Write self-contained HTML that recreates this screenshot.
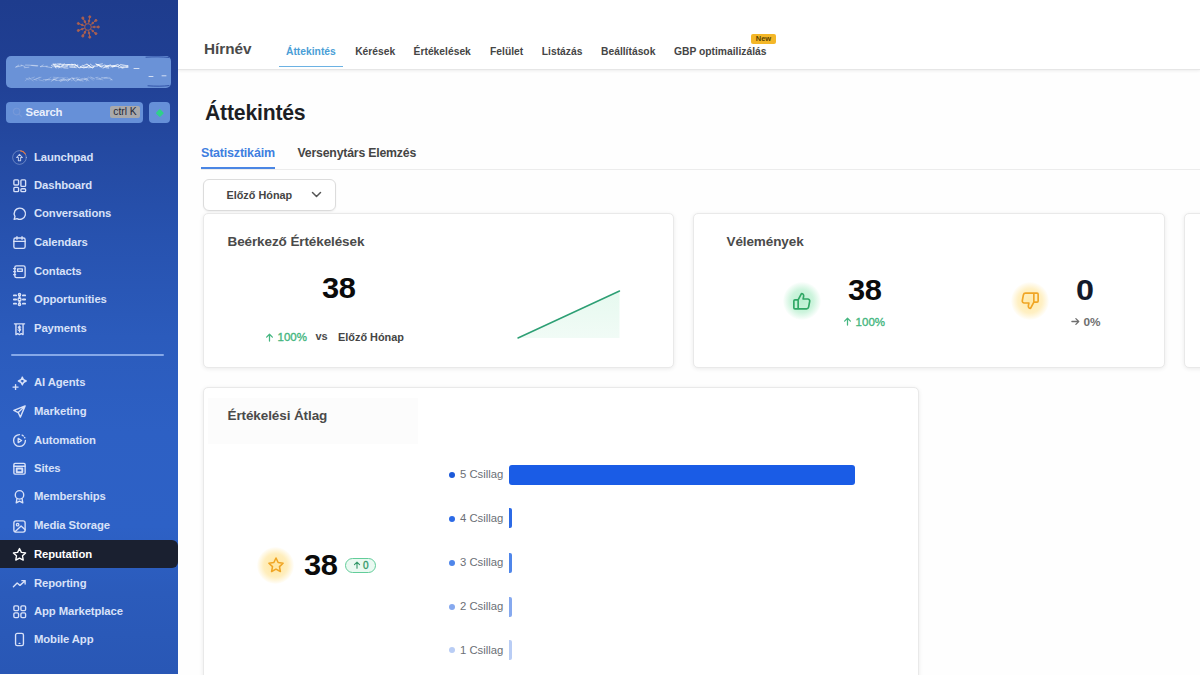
<!DOCTYPE html>
<html lang="hu">
<head>
<meta charset="utf-8">
<title>Hírnév – Áttekintés</title>
<style>
*{box-sizing:border-box;margin:0;padding:0}
html,body{width:1200px;height:675px;overflow:hidden;background:#fefefe;font-family:"Liberation Sans",sans-serif;color:#222}
.abs{position:absolute}
#side{position:absolute;left:0;top:0;width:178px;height:674px;background:linear-gradient(180deg,#1e3c8d 0%,#203f93 10%,#2449a1 22%,#2752af 35%,#2b5bbc 50%,#2d60c4 64%,#2d61c6 78%,#2b5bbb 88%,#2957b5 100%)}
#main{position:absolute;left:178px;top:0;width:1022px;height:675px;background:#fefefe;overflow:hidden}
.nav{position:absolute;left:0;width:178px;height:28px;color:#d8e1f8;font-weight:bold;font-size:11.3px;letter-spacing:-0.1px}
.nav span{position:absolute;left:34px;top:7.8px;white-space:nowrap}
.nav svg{position:absolute;left:12px;top:6.9px;width:15px;height:15px;fill:none;stroke:#d8e1f8;stroke-width:1.45;stroke-linecap:round;stroke-linejoin:round}
.nav.act{background:#1a2030;border-radius:0 6px 6px 0;color:#fff}
.nav.act svg{stroke:#fff}
#hdr{position:absolute;left:0;top:0;width:1022px;height:70px;background:#fff;border-bottom:1px solid #e6e6e6;box-shadow:0 1px 3px rgba(0,0,0,.07)}
.tab{position:absolute;top:45.5px;font-size:10.3px;font-weight:bold;color:#454545;white-space:nowrap}
.card{position:absolute;background:#fff;border:1px solid #e9e9e9;border-radius:5px;box-shadow:0 1px 4px rgba(0,0,0,.08)}
.ar{display:inline-block;width:9px;height:9px;fill:none;stroke:currentColor;stroke-width:1.400;stroke-linecap:round;stroke-linejoin:round;vertical-align:-0.5px;margin-right:4px}
.ct{position:absolute;font-size:13.5px;letter-spacing:-0.1px;font-weight:bold;color:#4a4a4a;white-space:nowrap}
.big{position:absolute;font-size:29.4px;font-weight:bold;color:#0b0b0b;white-space:nowrap;letter-spacing:-0.4px;transform:scaleX(1.05);transform-origin:0 0}
.grn{color:#45b680}
.sm{position:absolute;font-size:11.5px;font-weight:bold;white-space:nowrap}
.md{font-weight:normal;-webkit-text-stroke:0.35px currentColor}
.bl{position:absolute;font-size:11.3px;color:#6b6f76;white-space:nowrap}
.dot{position:absolute;width:6px;height:6px;border-radius:50%}
.bar{position:absolute;height:20px;border-radius:2px}
</style>
</head>
<body>
<div id="side">
  <!-- logo -->
  <svg class="abs" style="left:75.300px;top:13.500px" width="26" height="26" viewBox="-13 -13 26 26">
    <g stroke="#d46a3e" stroke-width="0.900" fill="none" opacity=".78" transform="rotate(90)">
      <circle r="3.300"/>
      <g id="ry"><line x1="0" y1="-3.500" x2="0" y2="-10"/><circle cx="0" cy="-10.300" r="1.050" fill="#d46a3e"/><circle cx="0" cy="-6.200" r=".8" fill="#d46a3e"/></g>
      <use href="#ry" transform="rotate(40)"/><use href="#ry" transform="rotate(80)"/><use href="#ry" transform="rotate(120)"/><use href="#ry" transform="rotate(160)"/><use href="#ry" transform="rotate(200)"/><use href="#ry" transform="rotate(240)"/><use href="#ry" transform="rotate(280)"/><use href="#ry" transform="rotate(320)"/>
    </g>
  </svg>
  <!-- account box -->
  <div class="abs" style="left:6px;top:56px;width:164.500px;height:31.500px;background:#6a92d7;border-radius:5px;overflow:hidden"><svg class="abs" style="left:0;top:0" width="164" height="31" viewBox="0 0 164 31" fill="none" stroke-linecap="round"><path d="M9.9 11.0L12.7 9.1M15.1 9.1L18.9 10.5M19.5 9.1L23.7 9.2M25.7 9.3L31.8 9.6M34.5 10.7L41.3 10.2M45.2 11.6L47.4 9.8M48.4 9.9L51.0 11.5M52.1 10.9L57.0 10.1M59.5 9.1L61.8 9.6M64.7 9.9L68.8 10.8" stroke="#fff" stroke-width="0.7" opacity="0.55"/><path d="M9.8 11.1L15.8 9.7M18.3 11.7L22.9 11.2M24.4 9.3L31.3 10.2M34.5 10.5L37.2 9.0M40.1 10.7L45.9 11.7M47.5 10.8L53.0 10.8M55.1 11.9L61.3 10.4M64.1 11.1L66.4 11.0" stroke="#fff" stroke-width="0.7" opacity="0.55"/><path d="M48.9 9.5L52.4 10.7M52.9 8.5L57.2 8.3M57.9 8.4L63.8 8.9M65.7 8.2L72.0 9.8M74.4 11.4L80.9 11.6M82.3 9.4L86.4 11.7M90.3 8.6L93.0 8.8M94.3 10.4L98.8 9.0M99.3 9.4L103.4 10.3M107.2 10.1L112.7 10.5M115.5 11.8L117.8 11.2M121.3 9.5L122.0 9.6" stroke="#fff" stroke-width="0.8" opacity="0.8"/><path d="M47.8 8.1L50.1 8.7M51.2 8.0L54.9 7.8M55.9 9.4L58.4 7.9M62.0 8.5L67.1 8.9M68.8 8.3L72.6 11.5M76.6 9.9L80.9 8.2M81.8 9.0L85.5 11.4M86.5 12.0L88.6 10.1M89.7 7.9L94.4 10.1M98.3 10.9L104.6 8.9M106.4 11.2L109.2 10.1M112.5 8.8L116.1 11.4M120.1 11.3L122.0 11.4" stroke="#fff" stroke-width="0.8" opacity="0.8"/><path d="M45.4 9.4L49.9 7.9M50.5 8.9L53.9 10.8M57.8 11.9L62.0 12.1M65.9 8.8L69.7 8.8M70.9 10.5L73.9 11.8M77.3 10.7L81.7 11.3M82.5 11.8L87.8 11.2M91.0 8.6L95.4 11.3M97.0 12.1L103.0 9.5M104.9 11.0L111.7 8.5M112.6 11.8L115.4 11.3M116.4 12.1L122.0 10.7" stroke="#fff" stroke-width="0.8" opacity="0.8"/><path d="M47.3 7.9L49.9 12.1M52.7 11.9L57.4 9.7M60.9 8.7L67.0 8.9M68.6 10.4L71.8 8.9M73.7 11.8L76.4 9.4M78.5 11.8L83.4 9.7M87.1 10.1L91.6 10.1M92.2 8.6L96.4 7.8M99.7 9.9L102.6 11.0M105.0 10.1L108.6 10.2M111.9 10.3L114.4 8.9M115.9 10.0L121.7 10.3" stroke="#fff" stroke-width="0.8" opacity="0.8"/><path d="M49.5 10.5L53.7 10.0M56.0 9.8L61.4 10.1M63.6 10.9L70.3 11.7M74.1 10.3L77.4 12.0M80.9 8.3L83.5 9.7M84.3 8.1L87.5 10.7M90.8 8.5L97.2 11.0M100.0 11.7L102.8 12.1M104.0 9.6L110.8 9.9M114.8 8.5L120.9 9.7" stroke="#fff" stroke-width="0.8" opacity="0.8"/><path d="M20.0 22.3L23.0 23.9M23.6 22.8L28.4 21.1M30.0 23.0L35.1 21.3M39.1 24.9L45.0 21.4M46.5 24.1L48.6 22.1M49.6 24.6L53.7 24.3M55.1 24.7L57.9 23.3M60.8 21.2L63.3 23.8M65.3 24.8L67.6 23.5M70.9 24.4L73.3 21.3M76.9 22.4L81.1 23.2M84.9 21.5L88.2 23.1M89.5 21.6L92.1 21.2M93.3 22.2L96.9 24.0M98.4 21.7L102.9 22.4M103.4 21.1L106.0 23.9" stroke="#fff" stroke-width="0.6" opacity="0.4"/><path d="M19.1 24.7L23.5 21.4M26.9 23.0L31.0 24.3M32.9 23.8L37.4 24.9M39.1 23.8L45.3 23.5M47.2 21.2L51.0 21.5M51.7 22.0L57.4 21.7M58.2 24.5L64.4 23.7M65.9 22.2L69.1 22.8M70.2 22.1L74.4 24.8M78.3 22.0L83.0 24.9M84.6 21.0L88.4 22.5M90.6 21.8L95.1 23.0M95.6 21.4L98.9 22.6M99.6 22.2L101.7 21.9M104.2 24.0L106.0 23.6" stroke="#fff" stroke-width="0.6" opacity="0.4"/><path d="M23.3 22.3L27.2 24.9M28.2 23.6L33.9 21.2M37.3 23.5L43.7 23.9M47.1 23.1L49.8 23.0M53.2 24.3L59.2 23.3M62.9 23.8L68.3 21.9M68.9 22.4L71.5 21.4M75.0 23.5L79.8 23.5M82.6 21.0L87.1 24.2M90.2 23.1L94.7 23.6M95.5 22.0L101.1 21.3M102.6 21.8L106.0 24.0" stroke="#fff" stroke-width="0.6" opacity="0.4"/><path d="M47.0 23.4L50.9 24.2M54.1 24.1L59.1 21.8M60.2 24.5L63.4 22.7M65.9 21.7L68.0 22.6M70.8 24.2L76.3 22.7M78.6 23.4L82.0 22.0" stroke="#fff" stroke-width="0.7" opacity="0.5"/><path d="M45.2 25.2L52.1 21.6M54.2 25.4L60.3 23.3M61.7 25.3L64.8 22.3M67.3 23.6L70.0 25.3M71.0 23.5L77.1 25.0M80.1 25.1L82.0 23.4" stroke="#fff" stroke-width="0.7" opacity="0.5"/><path d="M128 12.500h5M143 20.500h4M156 19.800h4" stroke="#fff" stroke-width="1" opacity=".7"/><path d="M140 1.200c8-.6 16-.5 23 .3M142 29.800c8 .6 15 .5 21-.2" stroke="#24459c" stroke-width="1" opacity=".8"/></svg></div>
  <!-- search -->
  <div class="abs" style="left:6px;top:102px;width:137px;height:21px;background:#6690d8;border-radius:4px">
    <svg class="abs" style="left:6px;top:5px" width="11" height="11" viewBox="0 0 12 12" fill="none" stroke="#7799d9" stroke-width="1.2"><circle cx="5" cy="5" r="3.6"/><path d="M8 8l3 3"/></svg>
    <span class="abs" style="left:19.5px;top:4px;font-size:11.4px;font-weight:bold;color:#e9effc;letter-spacing:-0.2px">Search</span>
    <span class="abs" style="left:104px;top:4px;width:30px;height:12px;background:#a9a9ab;border-radius:2px;font-size:10.3px;color:#262a38;text-align:center;line-height:12px;white-space:nowrap">ctrl K</span>
  </div>
  <div class="abs" style="left:149px;top:102px;width:21px;height:21px;background:#6690d8;border-radius:4px">
    <div class="abs" style="left:7.7px;top:7.700px;width:5.600px;height:5.600px;background:#2fd08a;transform:rotate(45deg);border-radius:1px"></div>
  </div>
  <div class="nav" style="top:143px"><svg viewBox="0 0 16 16"><circle cx="8" cy="8" r="7.300" stroke-width="1" opacity=".4"/><path d="M8 4.600L4.900 8h1.900v3.400h2.400V8h1.900z" stroke-width="1.100" opacity=".85"/><path d="M9 .8A7.300 7.300 0 0 1 14.300 4.300" stroke="#e8773c" stroke-width="1.100"/></svg><span>Launchpad</span></div>
  <div class="nav" style="top:171px"><svg viewBox="0 0 16 16"><rect x="2" y="2" width="5" height="5.5" rx="1"/><rect x="9.5" y="2" width="5" height="7" rx="1"/><rect x="2" y="10" width="5" height="4.5" rx="1"/><rect x="9.5" y="11.5" width="5" height="3" rx="1"/></svg><span>Dashboard</span></div>
  <div class="nav" style="top:199.4px"><svg viewBox="0 0 16 16"><path d="M8.3 2.2a6 6 0 1 1-2.9 11.2L2.3 14.2l.9-2.9A6 6 0 0 1 8.3 2.2z"/></svg><span>Conversations</span></div>
  <div class="nav" style="top:228.5px"><svg viewBox="0 0 16 16"><rect x="2" y="3.2" width="12" height="11" rx="1.8"/><path d="M2 6.8h12M5.3 1.8v2.8M10.7 1.8v2.8"/></svg><span>Calendars</span></div>
  <div class="nav" style="top:256.9px"><svg viewBox="0 0 16 16"><rect x="3" y="2" width="11" height="12.5" rx="1.8"/><path d="M6 5.2h5v2.6H6zM1.8 5h2M1.8 8.2h2M1.8 11.4h2"/></svg><span>Contacts</span></div>
  <div class="nav" style="top:285px"><svg viewBox="0 0 16 16"><circle cx="8" cy="8" r="1.6"/><circle cx="8" cy="2.8" r="1.2"/><circle cx="8" cy="13.2" r="1.2"/><path d="M8 4v2.4M8 9.6V12M2 3.6h2.4M2 8h2.4M2 12.4h2.4M11.6 3.6H14M11.6 8H14M11.6 12.4H14" stroke-width="2"/></svg><span>Opportunities</span></div>
  <div class="nav" style="top:314px"><svg viewBox="0 0 16 16"><path d="M4.2 3h7.6v11.5l-1.9-1.1-1.9 1.1-1.9-1.1-1.9 1.1zM2.6 3h10.8"/><path d="M9.3 6.6c-.3-.5-.8-.7-1.4-.7-.8 0-1.3.4-1.3 1s.5.9 1.3 1.1 1.4.5 1.400 1.100-.6 1.100-1.400 1.100c-.7 0-1.200-.3-1.500-.8M8 5.200v6.400" stroke-width="1.100"/></svg><span>Payments</span></div>
  <div class="abs" style="left:11px;top:354px;width:153px;height:1.5px;background:#86a8e8;border-radius:1px"></div>
  <div class="nav" style="top:368.3px"><svg viewBox="0 0 16 16"><path d="M11 2.200c.5 2.600 1.600 3.700 4.200 4.200-2.600.5-3.700 1.600-4.200 4.200-.5-2.600-1.600-3.700-4.200-4.200 2.600-.5 3.700-1.600 4.200-4.200zM3.800 10.200v5.400M1.100 12.900h5.400"/></svg><span>AI Agents</span></div>
  <div class="nav" style="top:397px"><svg viewBox="0 0 16 16"><path d="M14 2L2 6.800l4.600 2.300L8.900 14zM6.600 9.100L14 2"/></svg><span>Marketing</span></div>
  <div class="nav" style="top:426px"><svg viewBox="0 0 16 16"><path d="M14.300 8A6.300 6.300 0 1 1 8 1.700"/><path d="M6.600 5.800v4.400L10.200 8z"/><path d="M10.800 2.300a6.300 6.300 0 0 1 2.900 2.900" stroke-dasharray="1.500 2"/></svg><span>Automation</span></div>
  <div class="nav" style="top:454.3px"><svg viewBox="0 0 16 16"><rect x="2" y="2.500" width="12" height="11.500" rx="1.200"/><path d="M2 5.600h12"/><rect x="5" y="8" width="6" height="3.800" stroke-width="2"/></svg><span>Sites</span></div>
  <div class="nav" style="top:482.5px"><svg viewBox="0 0 16 16"><circle cx="8" cy="6.300" r="4.500"/><path d="M5.300 10l-.8 4.800L8 12.900l3.500 1.900-.8-4.800"/></svg><span>Memberships</span></div>
  <div class="nav" style="top:511.7px"><svg viewBox="0 0 16 16"><rect x="2" y="2" width="12" height="12" rx="2.200"/><circle cx="6" cy="6" r="1.300"/><path d="M3.200 13.500l6.500-6 4.300 4"/></svg><span>Media Storage</span></div>
  <div class="nav act" style="top:540.2px"><svg viewBox="0 0 16 16"><path d="M8 1.600l2 4.100 4.500.6-3.300 3.100.8 4.500L8 11.800l-4 2.100.8-4.500L1.500 6.300l4.500-.6z"/></svg><span>Reputation</span></div>
  <div class="nav" style="top:569px"><svg viewBox="0 0 16 16"><path d="M1.500 11.500l4-4 3 2.500 5.500-5M10.500 5H14v3.500"/></svg><span>Reporting</span></div>
  <div class="nav" style="top:597px"><svg viewBox="0 0 16 16"><rect x="2" y="2" width="5" height="5" rx="1.200"/><rect x="9.500" y="2" width="5" height="5" rx="1.200"/><rect x="2" y="9.500" width="5" height="5" rx="1.200"/><rect x="9.500" y="9.500" width="5" height="5" rx="1.200"/></svg><span>App Marketplace</span></div>
  <div class="nav" style="top:625.6px"><svg viewBox="0 0 16 16"><rect x="3.800" y="1.500" width="8.400" height="13" rx="1.800"/><path d="M7.600 12.200h.8"/></svg><span>Mobile App</span></div>
</div>
<div id="main">
  <div id="hdr">
    <span class="abs" style="left:26px;top:40px;font-size:15.3px;font-weight:bold;color:#4a4a4a;white-space:nowrap">Hírnév</span>
    <span class="tab" style="left:108px;color:#4a9ed6">Áttekintés</span>
    <div class="abs" style="left:101px;top:65.5px;width:64px;height:1.5px;background:#6cb2e3"></div>
    <span class="tab" style="left:177.2px">Kérések</span>
    <span class="tab" style="left:235.6px">Értékelések</span>
    <span class="tab" style="left:312px">Felület</span>
    <span class="tab" style="left:363.8px">Listázás</span>
    <span class="tab" style="left:423px">Beállítások</span>
    <span class="tab" style="left:496px">GBP optimailizálás</span>
    <span class="abs" style="left:573px;top:33.700px;width:25px;height:10px;background:#f4b728;border-radius:2px;font-size:7.5px;font-weight:bold;color:#5a4300;text-align:center;line-height:10px">New</span>
  </div>
  <!-- page title -->
  <span class="abs" style="left:27px;top:101px;font-size:21.2px;font-weight:bold;color:#1d1f24;white-space:nowrap;letter-spacing:-0.2px">Áttekintés</span>
  <!-- sub tabs -->
  <span class="abs" style="left:23px;top:146px;font-size:12.5px;font-weight:bold;color:#3f7fe0;white-space:nowrap;letter-spacing:-0.2px">Statisztikáim</span>
  <span class="abs" style="left:119.500px;top:146px;font-size:12.3px;font-weight:bold;color:#454545;white-space:nowrap;letter-spacing:-0.2px">Versenytárs Elemzés</span>
  <div class="abs" style="left:23px;top:169px;width:999px;height:1px;background:#ececec"></div>
  <div class="abs" style="left:23px;top:167px;width:74px;height:2px;background:#4a86e4"></div>
  <!-- dropdown -->
  <div class="abs" style="left:25px;top:179px;width:133px;height:32px;background:#fff;border:1px solid #dcdcdc;border-radius:6px;box-shadow:0 1px 2px rgba(0,0,0,.06)">
    <span class="abs" style="left:22.500px;top:8.500px;font-size:10.85px;font-weight:bold;color:#444;white-space:nowrap">Előző Hónap</span>
    <svg class="abs" style="left:107px;top:10px" width="11" height="9" viewBox="0 0 11 9" fill="none" stroke="#555" stroke-width="1.5" stroke-linecap="round" stroke-linejoin="round"><path d="M1.500 2.500l4 4 4-4"/></svg>
  </div>
  <!-- card 1 -->
  <div class="card" style="left:24.5px;top:213px;width:471px;height:155px">
    <span class="ct" style="left:24px;top:19.500px">Beérkező Értékelések</span>
    <span class="big" style="left:118.5px;top:57.2px">38</span>
    <span class="sm grn md" style="left:61px;top:117px;font-size:11.5px"><svg class="ar" viewBox="0 0 10 10"><path d="M5 9V1.500M1.800 4.600L5 1.400l3.200 3.200"/></svg>100%</span>
    <span class="sm" style="left:112px;top:116px;color:#4a4a4a;font-size:11px">vs</span>
    <span class="sm" style="left:134.500px;top:117px;color:#444;font-size:10.9px">Előző Hónap</span>
    <svg class="abs" style="left:310.500px;top:70.500px" width="115" height="60" viewBox="0 0 115 60"><defs><linearGradient id="sg" x1="0" y1="0" x2="0" y2="1"><stop offset="0" stop-color="#e6f9ef"/><stop offset="1" stop-color="#f1fbf6"/></linearGradient></defs><path d="M4 53L105.500 6V53z" fill="url(#sg)"/><path d="M4 53L105.500 6" stroke="#2d9f74" stroke-width="1.500" fill="none" stroke-linecap="round"/></svg>
  </div>
  <!-- card 2 -->
  <div class="card" style="left:515px;top:213px;width:472px;height:155px">
    <span class="ct" style="left:32.500px;top:20px">Vélemények</span>
    <div class="abs" style="left:88.5px;top:68px;width:38px;height:38px;border-radius:50%;background:radial-gradient(circle,#b9efd0 0%,#cdf4dd 42%,rgba(225,249,235,0) 72%)"></div>
    <svg class="abs" style="left:96.5px;top:75.500px" width="22" height="22" viewBox="0 0 20 20" fill="none" stroke="#2fa765" stroke-width="1.500" stroke-linejoin="round" stroke-linecap="round"><path d="M6.500 9v8.200H3.600a1 1 0 0 1-1-1V10a1 1 0 0 1 1-1zM6.500 9l3-5.800c1.300 0 2.200 1 2 2.300L11 8.200h4.300c1.100 0 1.900 1 1.700 2l-1 5.400c-.2 1-1 1.600-1.900 1.600H6.500"/></svg>
    <span class="big" style="left:154px;top:59px">38</span>
    <span class="sm grn md" style="left:148.600px;top:101.500px;font-size:11.5px"><svg class="ar" viewBox="0 0 10 10"><path d="M5 9V1.500M1.800 4.600L5 1.400l3.200 3.200"/></svg>100%</span>
    <div class="abs" style="left:316.500px;top:68.200px;width:38px;height:38px;border-radius:50%;background:radial-gradient(circle,#ffe9a8 0%,#fff0c4 45%,rgba(255,246,220,0) 72%)"></div>
    <svg class="abs" style="left:324.500px;top:76.200px" width="22" height="22" viewBox="0 0 20 20" fill="none" stroke="#f0a524" stroke-width="1.500" stroke-linejoin="round" stroke-linecap="round"><path d="M13.500 11V2.800h2.900a1 1 0 0 1 1 1V10a1 1 0 0 1-1 1zM13.500 11l-3 5.800c-1.300 0-2.200-1-2-2.300l.5-2.700H4.700c-1.100 0-1.900-1-1.700-2l1-5.400c.2-1 1-1.600 1.900-1.600h7.600"/></svg>
    <span class="big" style="left:381.500px;top:59px;color:#131a2b;transform:scaleX(1.1)">0</span>
    <span class="sm" style="left:376.500px;top:100.700px;font-size:11.8px;color:#6e6e6e"><svg class="ar" viewBox="0 0 10 10"><path d="M1 5h7.500M5.400 1.800L8.600 5 5.400 8.200"/></svg>0%</span>
  </div>
  <!-- card 3 (cut) -->
  <div class="card" style="left:1005.5px;top:213px;width:100px;height:155px"></div>
  <!-- card 4 -->
  <div class="card" style="left:24.500px;top:387px;width:716px;height:320px">
    <div class="abs" style="left:4px;top:10px;width:210px;height:46px;background:#fcfcfc"></div>
    <span class="ct" style="left:24px;top:20.100px">Értékelési Átlag</span>
    <div class="abs" style="left:53.500px;top:158.500px;width:37px;height:37px;border-radius:50%;background:radial-gradient(circle,#ffe6a0 0%,#ffeebd 45%,rgba(255,246,220,0) 72%)"></div>
    <svg class="abs" style="left:63px;top:168px" width="18" height="18" viewBox="0 0 16 16" fill="none" stroke="#f0a524" stroke-width="1.400" stroke-linejoin="round"><path d="M8 1.800l1.900 4 4.400.6-3.200 3 .8 4.400L8 11.700l-3.900 2.100.8-4.400-3.200-3 4.400-.6z"/></svg>
    <span class="big" style="left:100px;top:159.700px">38</span>
    <span class="abs md" style="left:141.700px;top:169.700px;width:31px;height:15.300px;border:1px solid #62cd9a;border-radius:8px;background:#eaf9f1;font-size:10px;color:#35996a;text-align:center;line-height:13px"><svg class="ar" style="width:8px;height:8px;margin-right:2px" viewBox="0 0 10 10"><path d="M5 9V1.500M1.800 4.600L5 1.400l3.200 3.200"/></svg>0</span>
    <div class="dot" style="left:245.5px;top:83.9px;background:#1b59d9"></div><span class="bl" style="left:256.5px;top:80.1px">5 Csillag</span><div class="bar" style="left:305.2px;top:76.7px;width:346.3px;background:#1a5ce6;border-radius:3px"></div>
    <div class="dot" style="left:245.5px;top:127.6px;background:#2c6ae6"></div><span class="bl" style="left:256.5px;top:123.8px">4 Csillag</span><div class="bar" style="left:305.2px;top:120.4px;width:3.3px;background:#2c6ae6;border-radius:0 2px 2px 0"></div>
    <div class="dot" style="left:245.5px;top:171.8px;background:#4f86ea"></div><span class="bl" style="left:256.5px;top:168.0px">3 Csillag</span><div class="bar" style="left:305.2px;top:164.6px;width:3.3px;background:#4f86ea;border-radius:0 2px 2px 0"></div>
    <div class="dot" style="left:245.5px;top:215.8px;background:#86a9ef"></div><span class="bl" style="left:256.5px;top:212.0px">2 Csillag</span><div class="bar" style="left:305.2px;top:208.6px;width:3.3px;background:#86a9ef;border-radius:0 2px 2px 0"></div>
    <div class="dot" style="left:245.5px;top:259.4px;background:#b9cdf5"></div><span class="bl" style="left:256.5px;top:255.6px">1 Csillag</span><div class="bar" style="left:305.2px;top:252.2px;width:3.3px;background:#b9cdf5;border-radius:0 2px 2px 0"></div>
  </div>
</div>
</body>
</html>
